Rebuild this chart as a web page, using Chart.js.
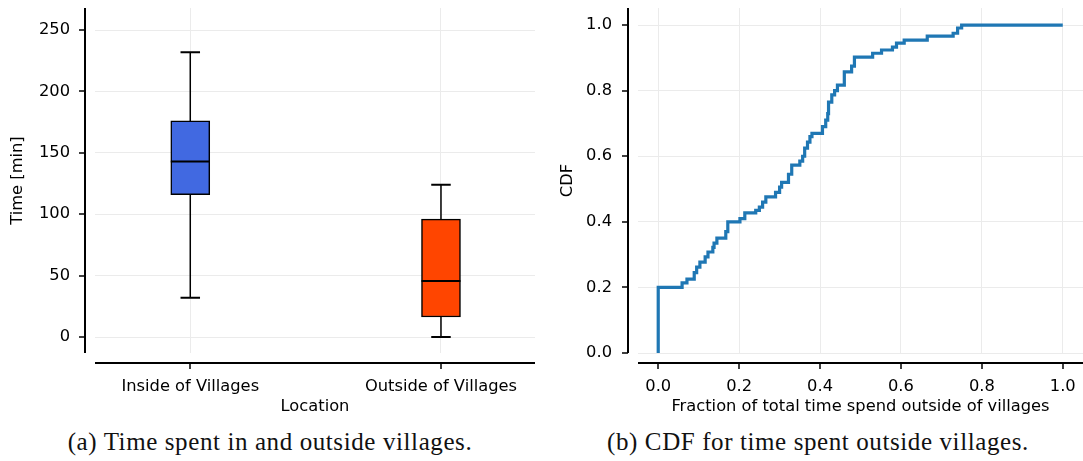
<!DOCTYPE html>
<html><head><meta charset="utf-8">
<script src="https://cdn.jsdelivr.net/npm/chart.js@4.4.1/dist/chart.umd.min.js"></script>
<style>
html,body{margin:0;padding:0;background:#fff}
body{width:1083px;height:461px;position:relative;overflow:hidden}
#w1{position:absolute;left:0;top:0;width:545px;height:420px}
#w2{position:absolute;left:545px;top:0;width:538px;height:420px}
.cap{position:absolute;top:429px;font-family:"Liberation Serif",serif;font-size:25px;line-height:25px;letter-spacing:0.6px;white-space:nowrap;transform:translateX(-50%);color:#111}
</style>
</head><body>
<div id="w1"><canvas id="c1" width="545" height="420"></canvas></div>
<div id="w2"><canvas id="c2" width="538" height="420"></canvas></div>
<div class="cap" style="left:270px">(a) Time spent in and outside villages.</div>
<div class="cap" style="left:818px">(b) CDF for time spent outside villages.</div>
<script>
// ---- data: box plot ----
const categories = ['Inside of Villages', 'Outside of Villages'];
const catPos = [0, 1];
const whiskerLow = [32, 0];
const q1 = [116, 16.3];
const median = [143, 45.6];
const q3 = [176, 96];
const whiskerHigh = [232, 124];
const boxColors = ['#4169e1', '#ff4500'];
const timeTicks = [0, 50, 100, 150, 200, 250];

// ---- data: CDF ----
const cdfX = [0, 0, 0.059, 0.071, 0.089, 0.095, 0.103, 0.116, 0.123, 0.135, 0.138, 0.145, 0.167, 0.172,
  0.202, 0.214, 0.241, 0.25, 0.258, 0.266, 0.29, 0.3, 0.305, 0.322, 0.33, 0.35, 0.357, 0.362, 0.369,
  0.375, 0.38, 0.406, 0.414, 0.419, 0.421, 0.429, 0.436, 0.443, 0.46, 0.478, 0.485, 0.53, 0.552,
  0.579, 0.589, 0.608, 0.665, 0.729, 0.74, 0.75, 1.0];
const cdfY = [0, 0.2, 0.214, 0.225, 0.245, 0.262, 0.277, 0.293, 0.308, 0.322, 0.335, 0.35, 0.37, 0.40,
  0.41, 0.427, 0.435, 0.445, 0.46, 0.476, 0.49, 0.506, 0.52, 0.545, 0.573, 0.585, 0.6, 0.625, 0.643,
  0.66, 0.67, 0.69, 0.71, 0.73, 0.765, 0.787, 0.80, 0.817, 0.857, 0.875, 0.902, 0.914, 0.924,
  0.933, 0.945, 0.954, 0.966, 0.975, 0.991, 1.0, 1.0];
const fracTicks = [0, 0.2, 0.4, 0.6, 0.8, 1.0];
const cdfTicks = [0, 0.2, 0.4, 0.6, 0.8, 1.0];

Chart.defaults.font.family = 'DejaVu Sans';
Chart.defaults.font.size = 16.3;
Chart.defaults.color = '#000';

const GRID = '#ebebeb';

function noPad(s) { s.paddingTop = 0; s.paddingBottom = 0; s.paddingLeft = 0; s.paddingRight = 0; }

const spinePlugin = {
  id: 'spines',
  afterDraw(chart) {
    const {ctx, chartArea: a, scales: {x, y}} = chart;
    const off = 10, tl = 6;
    ctx.save();
    ctx.strokeStyle = '#000';
    ctx.lineWidth = 2;
    ctx.beginPath();
    ctx.moveTo(a.left - off, a.top); ctx.lineTo(a.left - off, a.bottom);
    ctx.moveTo(a.left, a.bottom + off); ctx.lineTo(a.right, a.bottom + off);
    ctx.stroke();
    ctx.lineWidth = 1.5;
    ctx.beginPath();
    y.ticks.forEach(t => {
      const p = Math.round(y.getPixelForValue(t.value));
      ctx.moveTo(a.left - off - tl, p); ctx.lineTo(a.left - off, p);
    });
    x.ticks.forEach(t => {
      const p = Math.round(x.getPixelForValue(t.value));
      ctx.moveTo(p, a.bottom + off); ctx.lineTo(p, a.bottom + off + tl);
    });
    ctx.stroke();
    ctx.restore();
  }
};

const boxPartsPlugin = {
  id: 'boxparts',
  afterDatasetsDraw(chart) {
    const {ctx, scales: {x, y}} = chart;
    const meta = chart.getDatasetMeta(0);
    ctx.save();
    ctx.strokeStyle = '#000';
    meta.data.forEach((bar, i) => {
      const px = x.getPixelForValue(catPos[i]);
      const w = bar.width;
      const capW = w / 2;
      ctx.lineWidth = 1.5;
      ctx.beginPath();
      ctx.moveTo(px, y.getPixelForValue(q3[i])); ctx.lineTo(px, y.getPixelForValue(whiskerHigh[i]));
      ctx.moveTo(px, y.getPixelForValue(q1[i])); ctx.lineTo(px, y.getPixelForValue(whiskerLow[i]));
      ctx.stroke();
      ctx.lineWidth = 2;
      ctx.beginPath();
      ctx.moveTo(px - capW / 2, y.getPixelForValue(whiskerHigh[i])); ctx.lineTo(px + capW / 2, y.getPixelForValue(whiskerHigh[i]));
      ctx.moveTo(px - capW / 2, y.getPixelForValue(whiskerLow[i])); ctx.lineTo(px + capW / 2, y.getPixelForValue(whiskerLow[i]));
      ctx.moveTo(px - w / 2, y.getPixelForValue(median[i])); ctx.lineTo(px + w / 2, y.getPixelForValue(median[i]));
      ctx.stroke();
    });
    ctx.restore();
  }
};

new Chart(document.getElementById('c1'), {
  type: 'bar',
  data: {
    datasets: [{
      data: catPos.map((p, i) => ({x: p, y: [q1[i], q3[i]]})),
      backgroundColor: boxColors,
      borderColor: '#000',
      borderWidth: 1.5,
      borderSkipped: false,
      barThickness: 39
    }]
  },
  options: {
    responsive: false,
    animation: false,
    devicePixelRatio: 1,
    layout: {padding: {top: 8, right: 10, bottom: 0, left: 0}},
    plugins: {legend: {display: false}, tooltip: {enabled: false}},
    scales: {
      x: {
        type: 'linear', min: -0.38, max: 1.375, offset: false,
        afterBuildTicks: s => { s.ticks = catPos.map(v => ({value: v})); },
        afterFit: s => { s.height = 67; noPad(s); },
        ticks: {padding: 24, maxRotation: 0, autoSkip: false, callback: v => categories[catPos.indexOf(v)]},
        grid: {color: GRID, drawTicks: false, offset: false},
        border: {display: false},
        title: {display: true, text: 'Location', padding: {top: 0, bottom: 3}}
      },
      y: {
        type: 'linear', min: -13, max: 268,
        afterBuildTicks: s => { s.ticks = timeTicks.map(v => ({value: v})); },
        afterFit: s => { s.width = 95; noPad(s); },
        ticks: {padding: 25},
        grid: {color: GRID, drawTicks: false},
        border: {display: false},
        title: {display: true, text: 'Time [min]', padding: {top: 8, bottom: 0}}
      }
    }
  },
  plugins: [spinePlugin, boxPartsPlugin]
});

new Chart(document.getElementById('c2'), {
  type: 'line',
  data: {
    datasets: [{
      data: cdfX.map((v, i) => ({x: v, y: cdfY[i]})),
      borderColor: '#1f77b4',
      borderWidth: 3.2,
      pointRadius: 0,
      stepped: true,
      fill: false
    }]
  },
  options: {
    responsive: false,
    animation: false,
    devicePixelRatio: 1,
    layout: {padding: {top: 8, right: 0, bottom: 0, left: 0}},
    plugins: {legend: {display: false}, tooltip: {enabled: false}},
    scales: {
      x: {
        type: 'linear', min: -0.05, max: 1.05,
        afterBuildTicks: s => { s.ticks = fracTicks.map(v => ({value: v})); },
        afterFit: s => { s.height = 67; noPad(s); },
        ticks: {padding: 24, maxRotation: 0, autoSkip: false, callback: v => v.toFixed(1)},
        grid: {color: GRID, drawTicks: false},
        border: {display: false},
        title: {display: true, text: 'Fraction of total time spend outside of villages', padding: {top: 0, bottom: 3}}
      },
      y: {
        type: 'linear', min: 0, max: 1.052,
        afterBuildTicks: s => { s.ticks = cdfTicks.map(v => ({value: v})); },
        afterFit: s => { s.width = 93; noPad(s); },
        ticks: {padding: 26, callback: v => v.toFixed(1)},
        grid: {color: GRID, drawTicks: false},
        border: {display: false},
        title: {display: true, text: 'CDF', padding: {top: 13, bottom: 0}}
      }
    }
  },
  plugins: [spinePlugin]
});
</script>
</body></html>
